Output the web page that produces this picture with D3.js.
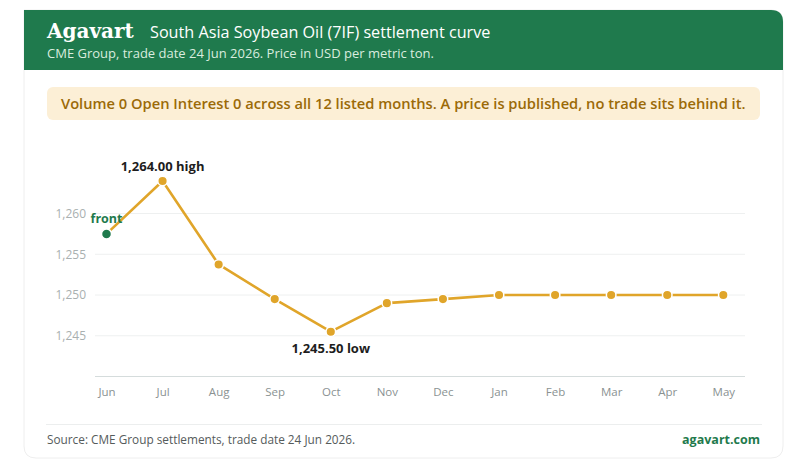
<!DOCTYPE html>
<html><head><meta charset="utf-8">
<script src="https://cdn.jsdelivr.net/npm/d3@7"></script>
<style>
html,body{margin:0;padding:0;background:#fff;}
svg{display:block;font-family:"Open Sans","Noto Sans",sans-serif;}
</style></head>
<body><svg id="c" width="808" height="470"></svg>
<script>
const months = ["Jun","Jul","Aug","Sep","Oct","Nov","Dec","Jan","Feb","Mar","Apr","May"];
const settle = [1257.5,1264.0,1253.75,1249.5,1245.5,1249.0,1249.5,1250.0,1250.0,1250.0,1250.0,1250.0];
const yTicks = [1245,1250,1255,1260];
const titleBrand = "Agavart";
const titleText = "South Asia Soybean Oil (7IF) settlement curve";
const subtitle = "CME Group, trade date 24 Jun 2026. Price in USD per metric ton.";
const note = "Volume 0 Open Interest 0 across all 12 listed months. A price is published, no trade sits behind it.";
const source = "Source: CME Group settlements, trade date 24 Jun 2026.";
const site = "agavart.com";

const svg = d3.select("#c");
const green = "#1f7a4d", gold = "#e0a52a";

// card
svg.append("path")
  .attr("d", "M24,10 H771 Q783,10 783,22 V446 Q783,458 771,458 H36 Q24,458 24,446 Z")
  .attr("fill","#fff").attr("stroke","#eeeeee");
// header
svg.append("path")
  .attr("d","M24,10 H771 Q783,10 783,22 V70 H24 Z").attr("fill",green);
svg.append("text").attr("x",47).attr("y",38).attr("fill","#fff")
  .attr("font-family","'DejaVu Serif','Liberation Serif',serif").attr("font-weight","bold").attr("font-size",20).text(titleBrand);
svg.append("text").attr("x",150).attr("y",38).attr("fill","#fff").attr("font-size",16.2).text(titleText);
svg.append("text").attr("x",47).attr("y",58).attr("fill","#d9ecdf").attr("font-size",13).text(subtitle);

// banner
svg.append("rect").attr("x",47).attr("y",87).attr("width",713).attr("height",33).attr("rx",6).attr("fill","#fcefd6");
svg.append("text").attr("x",61).attr("y",109).attr("fill","#9b6a07").attr("font-weight",600).attr("font-size",14.7).text(note);

// chart
const x = d3.scalePoint().domain(months).range([106.5,723.3]).padding(0);
const y = d3.scaleLinear().domain([1240,1265]).range([376.5,172.8]);
const plotL = 95, plotR = 745;

const g = svg.append("g");
g.selectAll("line.grid").data(yTicks).join("line").attr("class","grid")
  .attr("x1",plotL).attr("x2",plotR).attr("y1",d=>y(d)).attr("y2",d=>y(d))
  .attr("stroke","#eef0f0").attr("stroke-width",1);
g.append("line").attr("x1",plotL).attr("x2",plotR).attr("y1",y(1240)).attr("y2",y(1240)).attr("stroke","#d5dcdc");

const yAxis = g.append("g").attr("transform",`translate(${plotL},0)`)
  .call(d3.axisLeft(y).tickValues(yTicks).tickFormat(d3.format(",")).tickSize(0).tickPadding(9));
yAxis.select(".domain").remove();
yAxis.selectAll("text").attr("fill","#a9b0b0").attr("font-size",12).attr("font-family","'Open Sans',sans-serif");

const xAxis = g.append("g").attr("transform",`translate(0,${y(1240)})`)
  .call(d3.axisBottom(x).tickSize(0).tickPadding(11));
xAxis.select(".domain").remove();
xAxis.selectAll("text").attr("fill","#8a9292").attr("font-size",11.5).attr("font-family","'Open Sans',sans-serif");

const data = months.map((m,i)=>({m,v:settle[i]}));
g.append("path").datum(data)
  .attr("d", d3.line().x(d=>x(d.m)).y(d=>y(d.v)))
  .attr("fill","none").attr("stroke",gold).attr("stroke-width",2.6).attr("stroke-linejoin","round");
g.selectAll("circle.pt").data(data).join("circle").attr("class","pt")
  .attr("cx",d=>x(d.m)).attr("cy",d=>y(d.v)).attr("r",(d,i)=>i===0?5:4.8)
  .attr("fill",(d,i)=>i===0?green:gold).attr("stroke","#fff").attr("stroke-width",1.5);

const hiI = settle.indexOf(d3.max(settle)), loI = settle.indexOf(d3.min(settle));
const fmt = d3.format(",.2f");
g.append("text").attr("x",x(months[hiI])).attr("y",y(settle[hiI])-10).attr("text-anchor","middle")
  .attr("font-weight",700).attr("font-size",13).attr("fill","#1d1d1d").text(fmt(settle[hiI])+" high");
g.append("text").attr("x",x(months[loI])).attr("y",y(settle[loI])+21).attr("text-anchor","middle")
  .attr("font-weight",700).attr("font-size",13).attr("fill","#1d1d1d").text(fmt(settle[loI])+" low");
g.append("text").attr("x",x(months[0])).attr("y",y(settle[0])-11).attr("text-anchor","middle")
  .attr("font-weight",700).attr("font-size",12.5).attr("fill",green).text("front");

// footer
svg.append("line").attr("x1",46).attr("x2",762).attr("y1",424.5).attr("y2",424.5).attr("stroke","#eceeee");
svg.append("text").attr("x",47).attr("y",444).attr("fill","#555b5b").attr("font-size",11.8).text(source);
svg.append("text").attr("x",760).attr("y",444).attr("text-anchor","end").attr("fill",green).attr("font-weight",700).attr("font-size",12.5).text(site);
</script></body></html>
